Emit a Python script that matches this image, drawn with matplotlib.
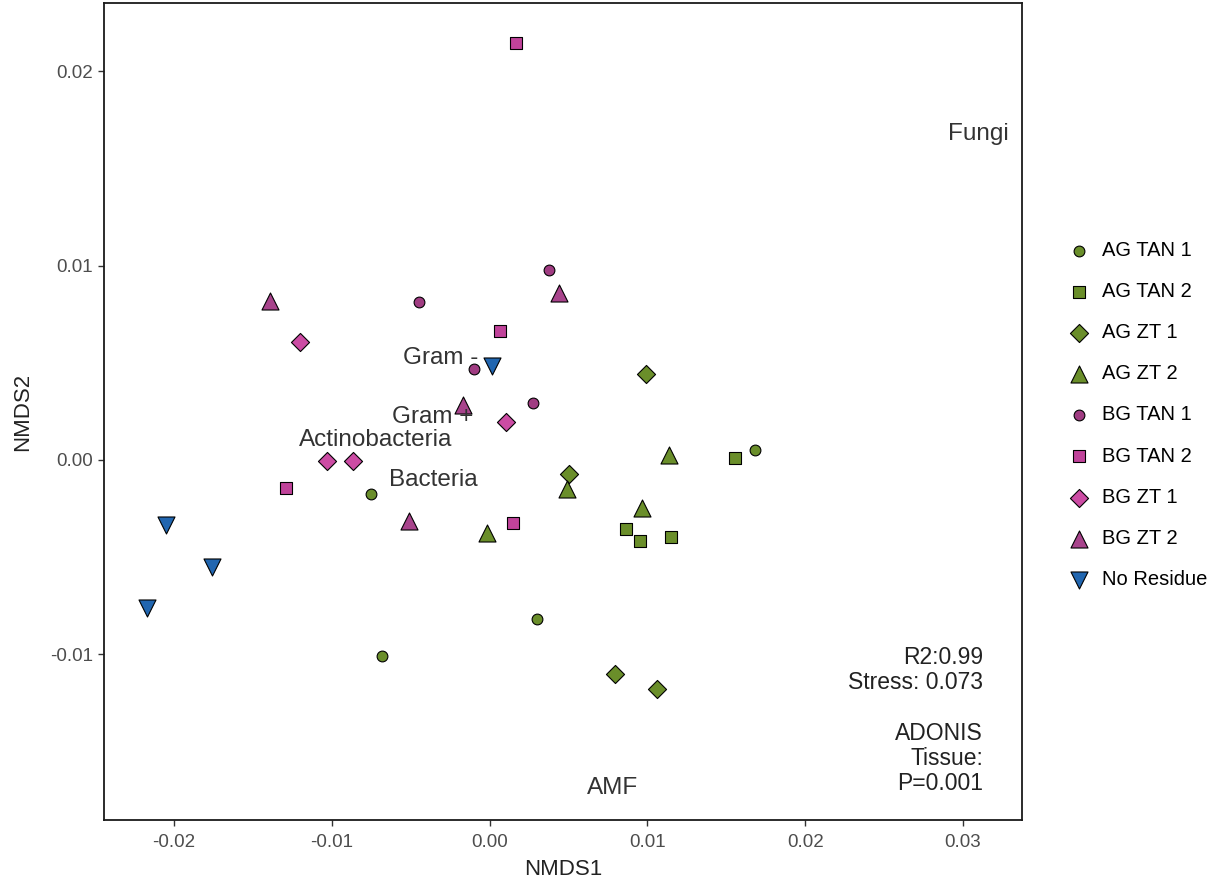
import matplotlib
matplotlib.use("Agg")
import matplotlib.pyplot as plt

plt.rcParams['font.family'] = ['Liberation Sans', 'DejaVu Sans']

groups = ["AG TAN 1", "AG TAN 2", "AG ZT 1", "AG ZT 2",
          "BG TAN 1", "BG TAN 2", "BG ZT 1", "BG ZT 2", "No Residue"]

ag_tan1_x = [0.0168, -0.0075, 0.0030, -0.0068]
ag_tan1_y = [0.0005, -0.00175, -0.0082, -0.0101]
ag_tan2_x = [0.01555, 0.00864, 0.00953, 0.0115]
ag_tan2_y = [0.0001, -0.00355, -0.00417, -0.00396]
ag_zt1_x = [0.0099, 0.0050, 0.00795, 0.0106]
ag_zt1_y = [0.00443, -0.00072, -0.0110, -0.0118]
ag_zt2_x = [0.01137, 0.00966, 0.0049, -0.00016]
ag_zt2_y = [0.00026, -0.00247, -0.00149, -0.00376]
bg_tan1_x = [0.00376, -0.00447, -0.00099, 0.00275]
bg_tan1_y = [0.00978, 0.00813, 0.00468, 0.00293]
bg_tan2_x = [0.00167, 0.00066, -0.0129, 0.00148]
bg_tan2_y = [0.02146, 0.00664, -0.00144, -0.00324]
bg_zt1_x = [-0.01202, 0.00104, -0.0103, -0.00865]
bg_zt1_y = [0.00607, 0.00196, -0.00005, -0.00005]
bg_zt2_x = [-0.01392, 0.0044, -0.00168, -0.0051]
bg_zt2_y = [0.00818, 0.0086, 0.00283, -0.00314]
nores_x = [0.00015, -0.0205, -0.01759, -0.0217]
nores_y = [0.00484, -0.00335, -0.00551, -0.00762]

xs = [ag_tan1_x, ag_tan2_x, ag_zt1_x, ag_zt2_x, bg_tan1_x, bg_tan2_x, bg_zt1_x, bg_zt2_x, nores_x]
ys = [ag_tan1_y, ag_tan2_y, ag_zt1_y, ag_zt2_y, bg_tan1_y, bg_tan2_y, bg_zt1_y, bg_zt2_y, nores_y]

label_text = ["Fungi", "Gram -", "Gram +", "Actinobacteria", "Bacteria", "AMF"]
label_x = [0.0310, -0.0031, -0.0036, -0.0072, -0.0036, 0.0078]
label_y = [0.0168, 0.00525, 0.00220, 0.00103, -0.00103, -0.0169]

annot_text = "R2:0.99\nStress: 0.073\n\nADONIS\nTissue:\nP=0.001"

x_ticks = [-0.02, -0.01, 0.00, 0.01, 0.02, 0.03]
y_ticks = [-0.01, 0.00, 0.01, 0.02]

colors = ['#6A8E2A', '#6A8E2A', '#6A8E2A', '#6A8E2A',
          '#A03C82', '#C0439A', '#CC4CA4', '#A8448C', '#2166B0']
markers = ['o', 's', 'D', '^', 'o', 's', 'D', '^', 'v']
sizes = [60, 85, 85, 150, 60, 85, 85, 150, 150]

W, H = 1227, 892
fig = plt.figure(figsize=(W / 100, H / 100), dpi=100)
ax = fig.add_axes([104 / W, 1 - 820 / H, (1022 - 104) / W, (820 - 3) / H])

for g, x, y, c, m, s in zip(groups, xs, ys, colors, markers, sizes):
    ax.scatter(x, y, c=c, marker=m, s=s, edgecolors='black', linewidths=0.8,
               label=g, zorder=3)

for t, x, y in zip(label_text, label_x, label_y):
    ax.text(x, y, t, ha='center', va='center', fontsize=17.5, color='#333333', zorder=4)

ax.text(0.03127, -0.00955, annot_text,
        ha='right', va='top', fontsize=16.5, color='#222222', linespacing=1.13)

ax.set_xlim(-0.02444, 0.03374)
ax.set_ylim(-0.01853, 0.02352)
ax.set_xticks(x_ticks)
ax.set_xticklabels([f"{v:.2f}" for v in x_ticks])
ax.set_yticks(y_ticks)
ax.set_yticklabels([f"{v:.2f}" for v in y_ticks])
ax.tick_params(axis='both', labelsize=13.5, labelcolor='#4D4D4D', color='#333333',
               length=4, width=1)
ax.tick_params(axis='x', pad=6)
ax.tick_params(axis='y', pad=4)
for sp in ax.spines.values():
    sp.set_linewidth(1.3)
    sp.set_color('#1a1a1a')
ax.set_xlabel("NMDS1", fontsize=16, color='#222222', labelpad=6)
ax.set_ylabel("NMDS2", fontsize=16, color='#222222', labelpad=12)

leg = fig.legend(loc='center left', bbox_to_anchor=(1069 / W, 1 - 415 / H),
                 frameon=False, fontsize=14.5, labelspacing=1.1,
                 handlelength=1.0, handletextpad=0.65, borderpad=0,
                 borderaxespad=0)

fig.savefig("out.png", dpi=100)
